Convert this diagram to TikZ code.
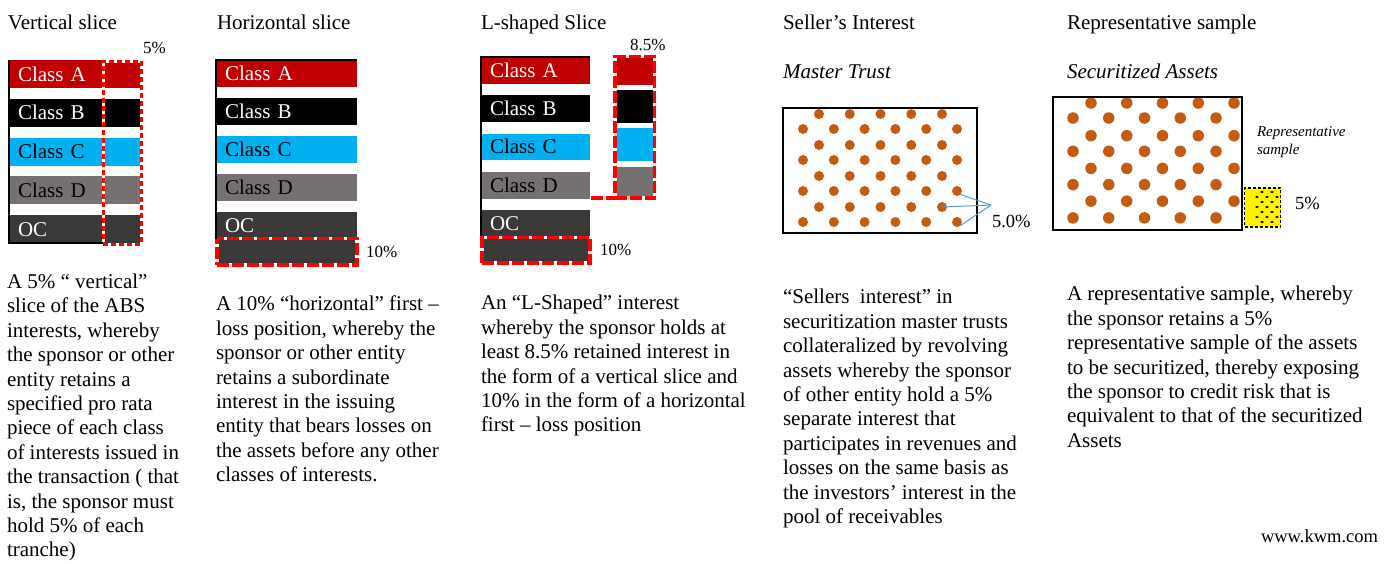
\documentclass[tikz,border=0pt]{standalone}
\usepackage{fontspec}
\setmainfont{Liberation Serif}
\usetikzlibrary{fit}
\definecolor{clsA}{HTML}{C00000}
\definecolor{clsC}{HTML}{00B0F0}
\definecolor{clsD}{HTML}{767171}
\definecolor{clsOC}{HTML}{3B3838}
\definecolor{dotc}{HTML}{C55A11}
\definecolor{lnblue}{HTML}{5B9BD5}
\newcommand\myBody{\fontsize{21pt}{24.4pt}\selectfont}
\newcommand\myPct{\fontsize{17pt}{20pt}\selectfont}
\newcommand\myMid{\fontsize{18.5pt}{22pt}\selectfont}
\newcommand\mySmall{\fontsize{15pt}{17.5pt}\selectfont}
\begin{document}
\begin{tikzpicture}[x=1pt,y=-1pt,
  every node/.style={inner sep=0pt, outer sep=0pt},
  lbl/.style={anchor=base west, font=\myBody},
  pct/.style={anchor=base west, font=\myPct},
  para/.style={anchor=north west, align=left, font=\myBody},
  bar/.style={anchor=north west, inner xsep=8pt, inner ysep=0pt, text height=14pt, text depth=0pt, align=left, font=\myBody},
  vbar/.style={bar, text width=116pt, minimum height=28pt},
  hbar/.style={bar, text width=124pt, minimum height=26.5pt},
  lbar/.style={bar, text width=92pt, minimum height=26.5pt},
  cbar/.style={anchor=north west, minimum width=40pt},
  cA/.style={fill=clsA, text=white},
  cB/.style={fill=black, text=white},
  cC/.style={fill=clsC, text=black},
  cD/.style={fill=clsD, text=black},
  cO/.style={fill=clsOC, text=white},
  frame/.style={draw=black, line width=2pt},
  slicev/.style={preaction={draw=white, solid, line width=3pt}, draw=red, line width=3pt, dash pattern=on 5pt off 3pt},
  sliceh/.style={preaction={draw=white, solid, line width=3.5pt}, draw=red, line width=3.5pt, dash pattern=on 12pt off 3pt},
  dotm/.style={circle, fill=dotc, minimum size=10pt},
  dots/.style={circle, fill=dotc, minimum size=11.5pt},
  box/.style={draw=black, line width=2.5pt, anchor=north west},
  blueln/.style={draw=lnblue, line width=1pt},
  ybox/.style={anchor=north west, fill=yellow, draw=black, line width=1.5pt, dash pattern=on 3pt off 2pt}
]
\useasboundingbox (0,0) rectangle (1384,563);

% ---------- titles ----------
\node[lbl] (t1) at (8,29) {Vertical slice};
\node[lbl] (t2) at (217,29) {Horizontal slice};
\node[lbl] (t3) at (481,29) {L-shaped Slice};
\node[lbl] (t4) at (783,29) {Seller’s Interest};
\node[lbl] (t5) at (1067,29) {Representative sample};
\node[lbl, font=\myBody\itshape] (t4b) at (783,78) {Master Trust};
\node[lbl, font=\myBody\itshape] (t5b) at (1067,78) {Securitized Assets};

% ---------- vertical slice ----------
\node[vbar, cA] (vA) at (10,60) {Class A};
\node[vbar, cB] (vB) at (10,98.75) {Class B};
\node[vbar, cC] (vC) at (10,137.5) {Class C};
\node[vbar, cD] (vD) at (10,176.25) {Class D};
\node[vbar, cO] (vOC) at (10,215) {OC};
\node[slicev, anchor=north west, minimum width=38pt, minimum height=183pt] (vslice) at (103,61) {};
\draw[frame] ([xshift=-1pt]vA.north west) -- ([xshift=-1pt]vOC.south west) -- (vOC.south -| vslice.west);
\node[pct] (p5v) at (143,53) {5\%};

% ---------- horizontal slice ----------
\node[hbar, cA] (hA) at (217,60) {Class A};
\node[hbar, cB] (hB) at (217,98) {Class B};
\node[hbar, cC] (hC) at (217,136) {Class C};
\node[hbar, cD] (hD) at (217,174) {Class D};
\node[hbar, cO] (hOC) at (217,212) {OC};
\node[hbar, cO] (hX) at (217,238.5) {};
\node[sliceh, fit=(hX), inner sep=0pt] (hXf) {};
\draw[frame] ([xshift=-1pt]hOC.south west) -- ([xshift=-1pt]hA.north west) -- (hA.north east);
\node[pct] (p10h) at (366,257) {10\%};

% ---------- L-shaped slice ----------
\node[lbar, cA] (lA) at (482,57) {Class A};
\node[lbar, cB] (lB) at (482,95.3) {Class B};
\node[lbar, cC] (lC) at (482,133.6) {Class C};
\node[lbar, cD] (lD) at (482,172) {Class D};
\node[lbar, cO, minimum height=26pt] (lOC) at (482,210.2) {OC};
\node[lbar, cO, minimum height=25.5pt] (lX) at (482,237.5) {};
\node[sliceh, fit=(lX), inner sep=0pt] (lXf) {};
\draw[frame] ([xshift=-1pt]lOC.south west) -- ([xshift=-1pt]lA.north west) -- (lA.north east);
\node[cbar, cA, minimum height=28.5pt] (lcA) at (615,56.5) {};
\node[cbar, cB, minimum height=33pt] (lcB) at (615,90) {};
\node[cbar, cC, minimum height=33pt] (lcC) at (615,128) {};
\node[cbar, cD, minimum height=31pt] (lcD) at (615,167) {};
\node[sliceh, anchor=north west, minimum width=39.7pt, minimum height=141.5pt] (lcol) at (615,56.5) {};
\coordinate (lj) at (591,198);
\draw[sliceh] (lj) -- (lcol.south west);
\node[pct] (p85) at (630,50) {8.5\%};
\node[pct] (p10l) at (600,255) {10\%};

% ---------- master trust ----------
\foreach \r in {0,...,3} {
  \foreach \c in {0,...,4} \node[dotm] (mo-\r-\c) at (819+30.75*\c, 114+31*\r) {};
  \foreach \c in {0,...,5} \node[dotm] (me-\r-\c) at (803+30.8*\c, 129+31*\r) {};
}
\node[box, minimum width=194pt, minimum height=125pt] (mt) at (783,108) {};
\coordinate (mtp) at (991,205);
\draw[blueln] (me-2-5.south east) -- (mtp);
\draw[blueln] (mo-3-4.center) -- (mtp);
\draw[blueln] (me-3-5.south east) -- (mtp);
\node[anchor=base west, font=\myMid] (p50) at (992,227.7) {5.0\%};

% ---------- securitized assets ----------
\foreach \r in {0,...,3} {
  \foreach \c in {0,...,4} \node[dots] (so-\r-\c) at (1091+35.75*\c, 103+32.7*\r) {};
  \foreach \c in {0,...,4} \node[dots] (se-\r-\c) at (1073+35.75*\c, 118+33.3*\r) {};
}
\node[box, minimum width=189pt, minimum height=133pt] (sa) at (1053,97) {};
\node[ybox, minimum width=36pt, minimum height=39pt] (ys) at (1244.5,188) {};
\foreach \r in {0,2,4,6} {
  \foreach \xx in {1262,1272} \fill (\xx, 192+5*\r) ellipse (1.8 and 1.2);
}
\foreach \r in {1,3,5} {
  \foreach \xx in {1257,1267,1277} \fill (\xx, 192+5*\r) ellipse (1.8 and 1.2);
}
\node[anchor=north west, align=left, font=\mySmall\itshape] (rs) at (1257,124.5) {\strut Representative\\sample};
\node[anchor=base west, font=\myMid] (p5s) at (1295,209) {5\%};

% ---------- paragraphs ----------
\node[para] (pv) at (7,271.5) {\strut A 5\% “ vertical”\\
slice of the ABS\\
interests, whereby\\
the sponsor or other\\
entity retains a\\
specified pro rata\\
piece of each class\\
of interests issued in\\
the transaction ( that\\
is, the sponsor must\\
hold 5\% of each\\
tranche)};

\node[para] (ph) at (216,293.9) {\strut A 10\% “horizontal” first –\\
loss position, whereby the\\
sponsor or other entity\\
retains a subordinate\\
interest in the issuing\\
entity that bears losses on\\
the assets before any other\\
classes of interests.};

\node[para] (pl) at (481,292.9) {\strut An “L-Shaped” interest\\
whereby the sponsor holds at\\
least 8.5\% retained interest in\\
the form of a vertical slice and\\
10\% in the form of a horizontal\\
first – loss position};

\node[para] (ps) at (783,286.9) {\strut “Sellers~ interest” in\\
securitization master trusts\\
collateralized by revolving\\
assets whereby the sponsor\\
of other entity hold a 5\%\\
separate interest that\\
participates in revenues and\\
losses on the same basis as\\
the investors’ interest in the\\
pool of receivables};

\node[para] (pr) at (1067,283.9) {\strut A representative sample, whereby\\
the sponsor retains a 5\%\\
representative sample of the assets\\
to be securitized, thereby exposing\\
the sponsor to credit risk that is\\
equivalent to that of the securitized\\
Assets};

\node[anchor=base east, font=\myMid] (www) at (1378,542) {www.kwm.com};
\end{tikzpicture}
\end{document}
